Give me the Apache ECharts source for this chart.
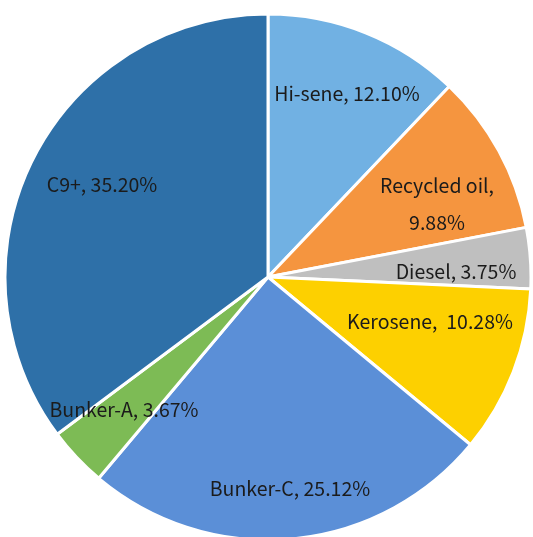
<!DOCTYPE html>
<html>
<head>
<meta charset="utf-8">
<script src="https://cdn.jsdelivr.net/npm/echarts@6/dist/echarts.min.js"></script>
<style>
  html, body { margin: 0; padding: 0; background: #fff; }
  #chart { width: 533px; height: 537px; }
</style>
</head>
<body>
<div id="chart"></div>
<script>
// 연료 구성 (%)
const names = ['Hi-sene', 'Recycled oil', 'Diesel', 'Kerosene', 'Bunker-C', 'Bunker-A', 'C9+'];
const shares = [12.10, 9.88, 3.75, 10.28, 25.12, 3.67, 35.20];
const colors = ['#71b1e3', '#f5953f', '#bfbfbf', '#fdd000', '#5b8fd7', '#7dbb55', '#2e70a8'];

// label centres
const labelPos = [[347, 94], [437, 204], [456, 272], [430, 322], [290, 489], [124, 410], [102, 185]];

const chart = echarts.init(document.getElementById('chart'));

chart.setOption({
  animation: false,
  series: [{
    type: 'pie',
    center: [268, 277],
    radius: 263,
    startAngle: 90,
    clockwise: true,
    itemStyle: { borderColor: '#fff', borderWidth: 3 },
    label: {
      show: true,
      position: 'inside',
      color: '#1b1b1b',
      fontFamily: 'Noto Sans CJK KR',
      fontSize: 19.5,
      lineHeight: 37,
      align: 'center',
      verticalAlign: 'middle',
      formatter: p => {
        const sep = p.dataIndex === 1 ? ',\n' : (p.dataIndex === 3 ? ',  ' : ', ');
        return p.name + sep + p.value.toFixed(2) + '%';
      }
    },
    labelLine: { show: false },
    labelLayout: params => {
      const pos = labelPos[params.dataIndex];
      return { x: pos[0], y: pos[1], align: 'center', verticalAlign: 'middle' };
    },
    data: names.map((n, i) => ({ name: n, value: shares[i], itemStyle: { color: colors[i] } }))
  }]
});
</script>
</body>
</html>
